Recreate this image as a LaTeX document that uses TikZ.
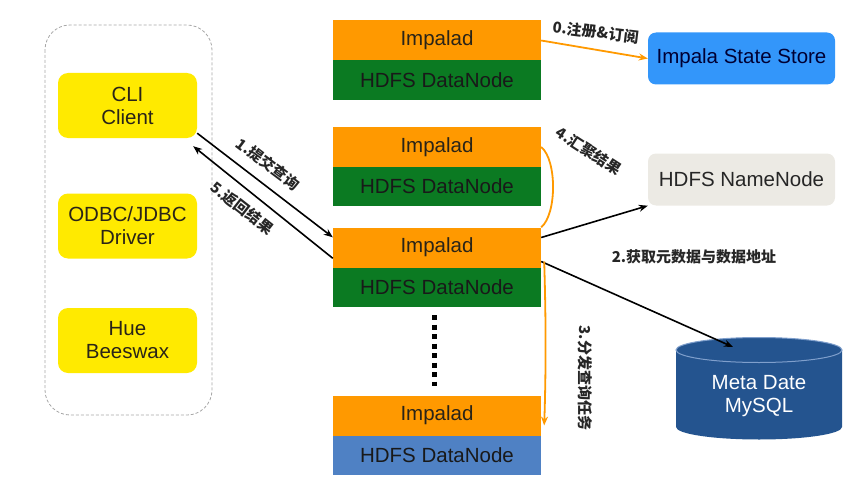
\documentclass[tikz,border=0pt]{standalone}
\usepackage{fontspec}
\setmainfont{Liberation Sans}
\newfontfamily\cjk{Noto Sans CJK SC}
\usetikzlibrary{arrows.meta,calc}
\definecolor{impor}{HTML}{FF9900}
\definecolor{dngreen}{HTML}{0B7A22}
\definecolor{dnblue}{HTML}{4F81C4}
\definecolor{cliyel}{HTML}{FFEA00}
\definecolor{ssblue}{HTML}{3396FA}
\definecolor{nnbeige}{HTML}{ECEAE4}
\definecolor{dbblue}{HTML}{24548F}
\definecolor{dbedge}{HTML}{7F9FCC}
\definecolor{boxtxt}{HTML}{2A2418}
\begin{document}
\begin{tikzpicture}[x=1pt,y=-1pt,
  every node/.style={font=\fontsize{20.5}{24}\selectfont, text=boxtxt},
  impbox/.style={fill=impor, minimum width=208pt, minimum height=40pt, inner sep=0pt},
  dnbox/.style={fill=dngreen, minimum width=208pt, minimum height=39pt, inner sep=0pt, text=black!90},
  clibox/.style={fill=cliyel, rounded corners=10pt, minimum width=139pt, minimum height=65pt, inner sep=0pt, align=center},
  rbox/.style={rounded corners=8pt, minimum width=187pt, minimum height=52pt, inner sep=0pt},
  blk/.style={draw=black, line width=1.6pt, -{Stealth[length=9pt,width=7pt]}},
  org/.style={draw=impor, line width=1.8pt},
  lab/.style={font=\cjk\bfseries\fontsize{15}{17}\selectfont, text=black!85, inner sep=0pt}
]
\useasboundingbox (0,0) rectangle (865,487);
% client group
\draw[gray!70, densely dashed, line width=0.8pt, rounded corners=25pt] (45,25) rectangle (212,415);
\node[clibox] (cli) at (127.5,105.5) {CLI\\[-1pt]Client};
\node[clibox] (odbc) at (127.5,226) {ODBC/JDBC\\[-1pt]Driver};
\node[clibox] (hue) at (127.5,340.5) {Hue\\[-1pt]Beeswax};
% impalad stacks
\node[impbox] (imp1) at (437,40.5) {Impalad};
\node[dnbox] (dn1) at (437,80) {HDFS DataNode};
\node[impbox] (imp2) at (437,147) {Impalad};
\node[dnbox] (dn2) at (437,186) {HDFS DataNode};
\node[impbox] (imp3) at (437,247.5) {Impalad};
\node[dnbox] (dn3) at (437,287) {HDFS DataNode};
\node[impbox] (imp4) at (437,415.5) {Impalad};
\node[dnbox, fill=dnblue] (dn4) at (437,455) {HDFS DataNode};
% dots
\draw[black, line width=5pt, dash pattern=on 5pt off 4.5pt] (434,315) -- (434,386);
% right side
\node[rbox, fill=ssblue, text=black!80!blue] (ss) at (741.5,58.5) {Impala State Store};
\node[rbox, fill=nnbeige, text=black!85] (nn) at (741.5,179.5) {HDFS NameNode};
% cylinder
\fill[dbblue] (676,350) -- (676,427) arc[start angle=180, end angle=360, x radius=83pt, y radius=12.5pt] -- (842,350) -- cycle;
\fill[dbblue] (759,350) ellipse[x radius=83pt, y radius=12.5pt];
\draw[dbedge, line width=1pt] (759,350) ellipse[x radius=83pt, y radius=12.5pt];
\node[text=white, align=center] (db) at (759,396) {Meta Date\\[-1pt]MySQL};
\coordinate (dbtop) at (733,347);
% connectors
\draw[org, -{Stealth[length=9pt,width=7pt]}] (imp1.east) -- (ss.west);
\draw[blk] ([yshift=5pt]cli.south east) -- ([yshift=-10pt]imp3.north west);
\draw[blk] ([yshift=-31pt]imp3.north west) -- ([xshift=-4pt,yshift=-8pt]cli.south east);
\draw[blk] ([yshift=10pt]imp3.east) -- (nn.south west);
\draw[blk] ([yshift=-14pt]imp3.east) -- (dbtop);
\draw[org] (imp2.east) .. controls (557,160) and (557,214) .. (imp3.north east);
\draw[org, -{Stealth[length=9pt,width=7pt]}] ([xshift=3pt,yshift=-14pt]imp3.east) .. controls (546,320) and (546,370) .. ([xshift=3pt,yshift=-10pt]imp4.east);
% labels
\node[lab, rotate=-7] at (596,32) {0.注册\&订阅};
\node[lab, rotate=-37] at (268,164) {1.提交查询};
\node[lab, rotate=-38] at (242,208) {5.返回结果};
\node[lab] at (694,257) {2.获取元数据与数据地址};
\node[lab, rotate=-33] at (589,151) {4.汇聚结果};
\node[lab, rotate=-90] at (585,378) {3.分发查询任务};
\end{tikzpicture}
\end{document}
